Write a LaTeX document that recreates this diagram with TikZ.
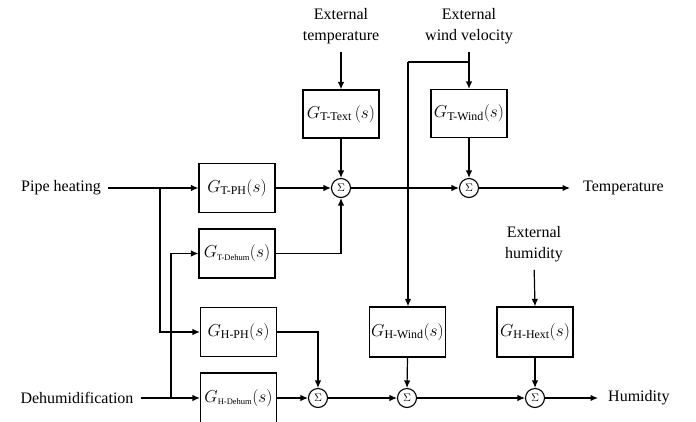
\documentclass[tikz,border=0pt]{standalone}
\usepackage{amsmath}
\usepackage{fontspec}
\setmainfont{Liberation Serif}
\usetikzlibrary{arrows.meta}
\tikzset{
  blk/.style={draw, line width=1.2pt, minimum width=76pt, minimum height=49pt, inner sep=0pt, font=\fontsize{17}{20}\selectfont},
  sumn/.style={draw, circle, line width=1.1pt, minimum size=19pt, inner sep=0pt, font=\fontsize{11}{11}\selectfont},
  lbl/.style={inner sep=0pt, align=center},
  conn/.style={line width=1.2pt, -{Latex[length=7.5pt,width=6.5pt]}},
  wire/.style={line width=1.2pt},
}
\begin{document}
\begin{tikzpicture}[x=1pt,y=-1pt, font=\fontsize{16}{21}\selectfont]
\useasboundingbox (0,0) rectangle (696,421);
% input / output labels
\node[lbl] (pipe) at (61,188) {Pipe heating};
\node[lbl] (deh) at (77,398) {Dehumidification};
\node[lbl, anchor=west] (temp) at (583,188) {Temperature};
\node[lbl, anchor=west] (hum) at (608,398) {Humidity};
\node[lbl] (extT) at (341,26) {External\\temperature};
\node[lbl] (extW) at (469,26) {External\\wind velocity};
\node[lbl] (extH) at (534,244) {External\\humidity};
% blocks
\node[blk] (TPH) at (237,188) {$G_{\text{T-PH}}(s)$};
\node[blk] (TDeh) at (237,253.5) {$G_{\scriptscriptstyle\text{T-Dehum}}(s)$};
\node[blk] (HPH) at (238.5,332) {$G_{\text{H-PH}}(s)$};
\node[blk, minimum height=50pt] (HDeh) at (238.5,398) {$G_{\scriptscriptstyle\text{H-Dehum}}(s)$};
\node[blk, minimum height=48pt] (TText) at (341,114) {$G_{\text{T-Text}}\,(s)$};
\node[blk, minimum height=48pt] (TWind) at (469,113.5) {$G_{\text{T-Wind}}(s)$};
\node[blk, minimum height=50pt] (HWind) at (407.5,332) {$G_{\text{H-Wind}}(s)$};
\node[blk, minimum height=50pt] (HHext) at (535,332) {$G_{\text{H-Hext}}(s)$};
% summing junctions
\node[sumn] (sT1) at (341,188) {$\Sigma$};
\node[sumn] (sT2) at (469,188) {$\Sigma$};
\node[sumn] (sH1) at (318,398) {$\Sigma$};
\node[sumn] (sH2) at (407,398) {$\Sigma$};
\node[sumn] (sH3) at (535,398) {$\Sigma$};
% branch points
\coordinate (bp) at (160,188);
\coordinate (bd) at (171,398);
\coordinate (bw) at (469,62);
\coordinate (bw2) at (408,62);
% connectors
\draw[conn, shorten <=7pt] (pipe.east) -- (TPH.west);
\draw[conn] (bp) |- (HPH.west);
\draw[conn, shorten <=7pt] (deh.east) -- (HDeh.west);
\draw[conn] (bd) |- (TDeh.west);
\draw[conn] (TPH.east) -- (sT1.west);
\draw[conn] (TDeh.east) -| (sT1.south);
\draw[conn, shorten <=8pt] (extT.south) -- (TText.north);
\draw[conn] (TText.south) -- (sT1.north);
\draw[conn] (sT1.east) -- (sT2.west);
\draw[conn, shorten <=8pt] (extW.south) -- (TWind.north);
\draw[wire] (bw) -- (bw2);
\draw[conn] (bw2) -- (bw2 |- HWind.north);
\draw[conn] (TWind.south) -- (sT2.north);
\draw[conn, shorten >=13pt] (sT2.east) -- (temp.west);
\draw[conn] (HPH.east) -| (sH1.north);
\draw[conn] (HDeh.east) -- (sH1.west);
\draw[conn] (sH1.east) -- (sH2.west);
\draw[conn] (HWind.south) -- (sH2.north);
\draw[conn] (sH2.east) -- (sH3.west);
\draw[conn, shorten <=8pt] (extH.south) -- (HHext.north);
\draw[conn] (HHext.south) -- (sH3.north);
\draw[conn, shorten >=10pt] (sH3.east) -- (hum.west);
\end{tikzpicture}
\end{document}
